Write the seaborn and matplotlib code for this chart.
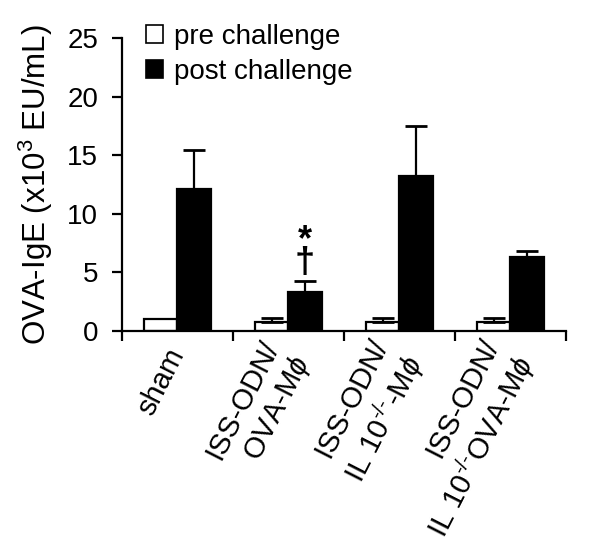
import numpy as np
import pandas as pd
import matplotlib
matplotlib.use("Agg")
import matplotlib.pyplot as plt
import seaborn as sns

# values (x10^3 EU/mL)
groups = ["sham", "ISS-ODN/\nOVA-M$\\phi$", "ISS-ODN/\nIL 10$^{\\text{-/-}}$-M$\\phi$",
          "ISS-ODN/\nIL 10$^{\\text{-/-}}$OVA-M$\\phi$"]
pre_mean = [1.0, 0.8, 0.8, 0.8]
pre_err = [0.0, 0.3, 0.3, 0.3]
post_mean = [12.1, 3.35, 13.25, 6.3]
post_err = [3.35, 0.9, 4.25, 0.55]
conditions = ["pre challenge", "post challenge"]

df = pd.DataFrame({
    "group": groups * 2,
    "condition": [conditions[0]] * 4 + [conditions[1]] * 4,
    "value": pre_mean + post_mean,
})

sns.set_style("ticks")
plt.rcParams['font.family'] = ['Liberation Sans', 'DejaVu Sans']
plt.rcParams['mathtext.fontset'] = 'custom'
plt.rcParams['mathtext.rm'] = 'Liberation Sans'
plt.rcParams['mathtext.it'] = 'Liberation Sans:italic'
for k in ['text.color', 'axes.labelcolor', 'xtick.color', 'ytick.color', 'axes.edgecolor']:
    plt.rcParams[k] = 'black'

fig = plt.figure(figsize=(6, 5.45), dpi=100)
ax = fig.add_axes([0.203, 0.3927, 0.74, 0.5373])

sns.barplot(data=df, x="group", y="value", hue="condition", order=groups,
            hue_order=conditions, palette=["white", "black"], width=0.6,
            errorbar=None, edgecolor="black", linewidth=1.6, ax=ax)

# error bars (upper only) on top of each bar
errs = pre_err + post_err
for patch, e in zip(ax.patches[:8], errs):
    xc = patch.get_x() + patch.get_width() / 2
    top = patch.get_height()
    if e > 0:
        ax.errorbar(xc, top, yerr=[[0], [e]], fmt="none", ecolor="black",
                    elinewidth=1.6, capsize=8, capthick=2.0, zorder=1)

# significance markers over ISS-ODN/OVA-Mphi post bar (one text, two lines)
p = ax.patches[4 + 1]
xc = p.get_x() + p.get_width() / 2
ax.text(xc, 4.3, "*\n\u2020", ha="center", va="bottom", fontsize=26,
        fontweight="bold", linespacing=0.55, multialignment="center")

ax.set_ylim(0, 25)
ax.set_xlim(-0.5, 3.5)
ax.set_yticks([0, 5, 10, 15, 20, 25])
ax.tick_params(axis="y", labelsize=20, width=1.6, length=7, direction="out", pad=10)
ax.set_ylabel("OVA-IgE (x10$^3$ EU/mL)", fontsize=22.5, labelpad=9)
ax.set_xlabel("")

# ticks at category boundaries, labels at centres
ax.set_xticks(np.arange(len(groups)))
ax.set_xticklabels(groups, rotation=63, ha="right", va="center",
                   rotation_mode="anchor", fontsize=21)
ax.tick_params(axis="x", which="major", length=0, pad=14)
ax.set_xticks(np.arange(-0.5, len(groups)), minor=True)
ax.tick_params(axis="x", which="minor", length=7, width=1.6, direction="out")

for s in ["top", "right"]:
    ax.spines[s].set_visible(False)
for s in ["left", "bottom"]:
    ax.spines[s].set_linewidth(1.6)

leg = ax.legend(loc="upper left", bbox_to_anchor=(0.055, 1.05), frameon=False,
                fontsize=20, handlelength=0.6, handleheight=0.6,
                handletextpad=0.4, labelspacing=0.33, borderaxespad=0,
                borderpad=0)
for h in leg.legend_handles:
    h.set_edgecolor("black")
    h.set_linewidth(1.2)

fig.savefig("out.png", dpi=100)
